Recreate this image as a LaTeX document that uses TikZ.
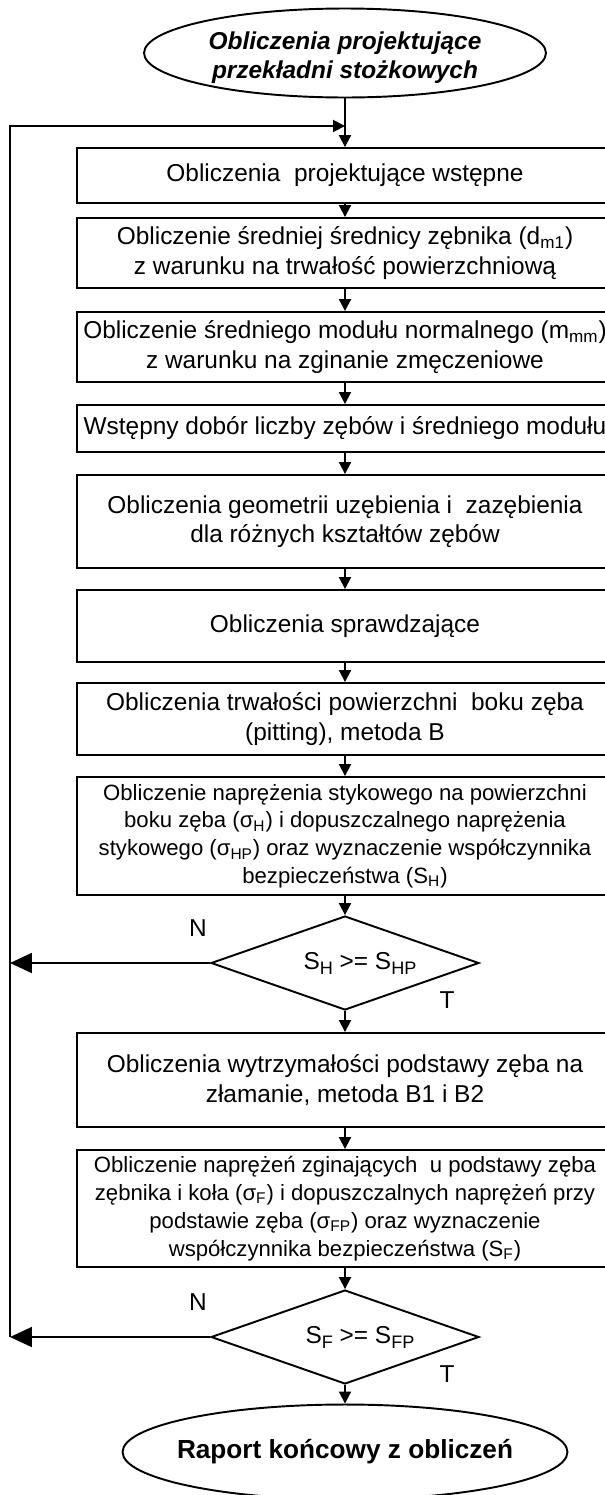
\documentclass[tikz,border=0pt]{standalone}
\usepackage{fontspec}
\setmainfont{Liberation Sans}
\usepackage{tikz}
\usetikzlibrary{shapes,arrows.meta,positioning}

\newcommand{\lowsub}[1]{\raisebox{-2.8pt}{\fontsize{10.3}{10}\selectfont #1}}

\tikzset{
  procbox/.style={shape=rectangle, draw=black, line width=1.1pt, minimum width=10.72cm, inner sep=0pt, align=center, font=\fontsize{13.9}{16.8}\selectfont},
  smallbox/.style={procbox, font=\fontsize{12.6}{15.8}\selectfont},
  decbox/.style={shape=diamond, draw=black, line width=1.1pt, minimum width=5.36cm, minimum height=1.88cm, aspect=2.85, inner sep=0pt, font=\fontsize{13.9}{16}\selectfont},
  termbox/.style={shape=ellipse, draw=black, line width=1.1pt, inner sep=0pt, align=center},
  flow/.style={-{Triangle[length=0.24cm,width=0.24cm]}, line width=1.1pt},
  backflow/.style={-{Triangle[length=0.44cm,width=0.4cm]}, line width=1.1pt},
  lbl/.style={font=\fontsize{13.9}{16}\selectfont, inner sep=0pt}
}

\begin{document}
\begin{tikzpicture}[x=0.02cm, y=-0.02cm]
\useasboundingbox (0,0) rectangle (605,1495);
\clip (0,0) rectangle (605,1495);

%start of the calculations
\node [termbox, minimum width=8.04cm, minimum height=1.78cm, font=\bfseries\itshape\fontsize{13.9}{16.5}\selectfont] at (345,53) (start) {\rule{0pt}{15pt}Obliczenia projektujące\\przekładni stożkowych};

%design calculation boxes
\node [procbox, minimum height=1.1cm] at (345,175.5) (pre) {Obliczenia\ \ projektujące wstępne};
\node [procbox, minimum height=1.4cm] at (345,253) (dm) {Obliczenie średniej średnicy zębnika (d\textsubscript{m1})\\z warunku na trwałość powierzchniową};
\node [procbox, minimum height=1.4cm] at (345,347) (mmm) {Obliczenie średniego modułu normalnego (m\textsubscript{mm})\\z warunku na zginanie zmęczeniowe};
\node [procbox, minimum height=0.94cm] at (345,428.5) (teeth) {Wstępny dobór liczby zębów i średniego modułu};
\node [procbox, minimum height=1.86cm] at (345,521.5) (geom) {Obliczenia geometrii uzębienia i\ \ zazębienia\\dla różnych kształtów zębów};

%checking calculations, pitting
\node [procbox, minimum height=1.44cm] at (345,626) (check) {Obliczenia sprawdzające};
\node [procbox, minimum height=1.44cm] at (345,719) (pit) {Obliczenia trwałości powierzchni\ \ boku zęba\\(pitting), metoda B};
\node [smallbox, minimum height=2.36cm] at (345,836) (sigH) {Obliczenie naprężenia stykowego na powierzchni\\boku zęba (σ\textsubscript{H}) i dopuszczalnego naprężenia\\stykowego (σ\textsubscript{HP}) oraz wyznaczenie współczynnika\\bezpieczeństwa (S\textsubscript{H})};

%first check
\node [decbox] at (345,963) (decH) {\hspace*{0.6cm}S\lowsub{H} >= S\lowsub{HP}};
\node [lbl] at (198,928) (nH) {N};
\node [lbl] at (447,1000) (tH) {T};

%tooth root strength
\node [procbox, minimum height=1.88cm] at (345,1080) (root) {Obliczenia wytrzymałości podstawy zęba na\\złamanie, metoda B1 i B2};
\node [smallbox, minimum height=2.34cm] at (345,1208.5) (sigF) {Obliczenie naprężeń zginających\ \ u podstawy zęba\\zębnika i koła (σ\textsubscript{F}) i dopuszczalnych naprężeń przy\\podstawie zęba (σ\textsubscript{FP}) oraz wyznaczenie\\współczynnika bezpieczeństwa (S\textsubscript{F})};

%second check
\node [decbox] at (345,1337) (decF) {\hspace*{0.6cm}S\lowsub{F} >= S\lowsub{FP}};
\node [lbl] at (198,1302) (nF) {N};
\node [lbl] at (447,1374) (tF) {T};

%end report
\node [termbox, minimum width=8.9cm, minimum height=1.9cm, font=\bfseries\fontsize{14.9}{17}\selectfont] at (345,1452) (stop) {\makebox[4cm]{Raport końcowy z obliczeń}};

%points of the loop back line
\coordinate (join) at (345,126);
\coordinate (corner) at (10,126);
\coordinate (backH) at (10,963);
\coordinate (backF) at (10,1337);

%arrows along the main path
\draw [flow] (start) -- (pre);
\draw [flow] (pre) -- (dm);
\draw [flow] (dm) -- (mmm);
\draw [flow] (mmm) -- (teeth);
\draw [flow] (teeth) -- (geom);
\draw [flow] (geom) -- (check);
\draw [flow] (check) -- (pit);
\draw [flow] (pit) -- (sigH);
\draw [flow] (sigH) -- (decH);
\draw [flow] (decH) -- (root);
\draw [flow] (root) -- (sigF);
\draw [flow] (sigF) -- (decF);
\draw [flow] (decF) -- (stop);

%N branches back to the start
\draw [backflow] (decH) -- (backH);
\draw [backflow] (decF) -- (backF);
\draw [flow] (backF) -- (corner) -- (join);

\end{tikzpicture}
\end{document}
